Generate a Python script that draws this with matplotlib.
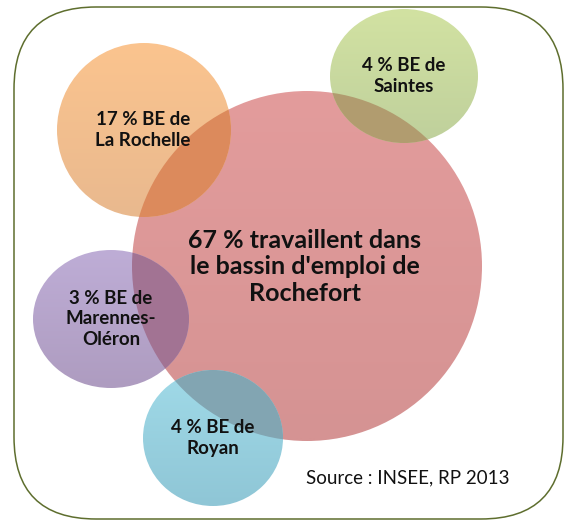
import matplotlib
matplotlib.use("Agg")
import matplotlib.pyplot as plt
import numpy as np
from matplotlib.patches import Ellipse, FancyBboxPatch
from matplotlib.colors import to_rgb

# ---- data ----
places = ["Rochefort", "La Rochelle", "Saintes", "Marennes-\nOléron", "Royan"]
shares = [67, 17, 4, 3, 4]
main_label = "{} % travaillent dans\nle bassin d'emploi de\n{}"
other_label = "{} % BE de\n{}"
source = "Source : INSEE, RP 2013"

# ---- layout (pixel coordinates) ----
centers = [(307, 266), (144, 130), (404, 76), (111, 319), (213, 438)]
radii = [(175, 175), (87, 87), (74, 67), (78, 69), (70, 68)]
text_pos = [(305, 267), (143, 130), (404, 76), (111, 319), (213, 438)]
top_cols = ["#E39C9C", "#FBC48E", "#D2E2A2", "#BEADD6", "#A0DAE8"]
bot_cols = ["#D59393", "#E9B98F", "#BFD09C", "#AE9CC0", "#8FC6D6"]
overlap_cols = [None, "#DC8A5C", "#B19C6F", "#A27393", "#82A5B2"]

W, H = 564, 522
fig = plt.figure(figsize=(W / 100, H / 100), dpi=100)
ax = fig.add_axes([0, 0, 1, 1])
ax.set_xlim(0, W)
ax.set_ylim(H, 0)
ax.axis("off")

FONT = "Lato"

def gradient(top, bot, n=64):
    t = np.linspace(0, 1, n)[:, None]
    a, b = np.array(to_rgb(top)), np.array(to_rgb(bot))
    return (a[None, :] * (1 - t) + b[None, :] * t)[:, None, :]

patches = []
for i, ((cx, cy), (rx, ry)) in enumerate(zip(centers, radii)):
    e = Ellipse((cx, cy), 2 * rx, 2 * ry, facecolor="none", edgecolor="none")
    ax.add_patch(e)
    im = ax.imshow(gradient(top_cols[i], bot_cols[i]), extent=(cx - rx, cx + rx, cy + ry, cy - ry),
                   origin="upper", aspect="auto", interpolation="bilinear", zorder=1 + i)
    im.set_clip_path(e)
    patches.append(e)
    if i > 0:
        ov = Ellipse((cx, cy), 2 * rx, 2 * ry, facecolor=overlap_cols[i], edgecolor="none",
                     zorder=1.5 + i)
        ax.add_patch(ov)
        ov.set_clip_path(patches[0])

ax.set_xlim(0, W)
ax.set_ylim(H, 0)

# labels
for i, (x, y) in enumerate(text_pos):
    if i == 0:
        txt = main_label.format(shares[i], places[i])
        ax.text(x, y, txt, ha="center", va="center", fontsize=18, fontweight="bold",
                family=FONT, color="#111111", linespacing=1.2, zorder=20)
    else:
        txt = other_label.format(shares[i], places[i])
        ax.text(x, y, txt, ha="center", va="center", fontsize=13.5, fontweight="bold",
                family=FONT, color="#111111", linespacing=1.27, zorder=20)

ax.text(408, 478, source, ha="center", va="center", fontsize=13.5, family=FONT,
        color="#111111", zorder=20)

# border
border = FancyBboxPatch((14, 7), 549, 512, boxstyle="round,pad=0,rounding_size=82",
                        facecolor="none", edgecolor="#5E6E2E", linewidth=1.1, zorder=30)
ax.add_patch(border)

fig.savefig("out.png", dpi=100)
